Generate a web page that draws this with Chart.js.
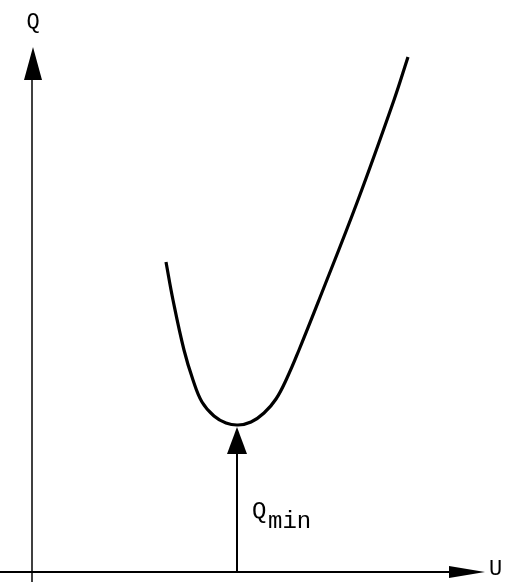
<!DOCTYPE html>
<html>
<head>
<meta charset="utf-8">
<script src="https://cdn.jsdelivr.net/npm/chart.js@4/dist/chart.umd.min.js"></script>
<style>
  body { margin: 0; background: #fff; }
  #wrap { width: 505px; height: 582px; }
</style>
</head>
<body>
<div id="wrap"><canvas id="chart" width="505" height="582"></canvas></div>
<script>
// curve Q(U) (U and Q in arbitrary units)
const curveU = [1.34, 1.41, 1.52, 1.61, 1.70, 1.82, 1.94, 2.06, 2.19, 2.32, 2.44, 2.55, 2.67, 2.87, 3.26, 3.62, 3.76];
const curveQ = [3.10, 2.72, 2.22, 1.92, 1.70, 1.56, 1.49, 1.47, 1.50, 1.59, 1.73, 1.94, 2.22, 2.72, 3.72, 4.72, 5.15];

// axes and the Q_min marker
const uRange = [-0.32, 4.73];
const qRange = [-0.10, 5.72];
const yAxisTop = 5.0;
const xAxisEnd = 4.3;
const uMin = 2.05;
const qMin = 1.45;

const curvePoints = curveU.map((u, i) => ({ x: u, y: curveQ[i] }));

// --- arrowheads and labels ---
const arrowPlugin = {
    id: 'arrows',
    afterDatasetsDraw(chart) {
        const { ctx, scales: { x, y } } = chart;
        function arrow(u, q, dir, len, half) {
            const px = x.getPixelForValue(u), py = y.getPixelForValue(q);
            ctx.beginPath();
            ctx.moveTo(px, py);
            if (dir === 'up') {
                ctx.lineTo(px - half, py + len);
                ctx.lineTo(px + half, py + len);
            } else {
                ctx.lineTo(px - len, py - half);
                ctx.lineTo(px - len, py + half);
            }
            ctx.closePath();
            ctx.fill();
        }
        ctx.save();
        ctx.fillStyle = '#000';
        arrow(0.01, 5.25, 'up', 33, 9);
        arrow(4.53, 0, 'right', 36, 6);
        arrow(uMin, qMin, 'up', 27, 10);

        ctx.textBaseline = 'middle';
        ctx.textAlign = 'center';
        ctx.font = '22px "Liberation Mono", monospace';
        ctx.fillText('Q', x.getPixelForValue(0.01), y.getPixelForValue(5.50));
        ctx.textAlign = 'left';
        ctx.fillText('U', x.getPixelForValue(4.57), y.getPixelForValue(0.03));
        ctx.font = '24px "Liberation Mono", monospace';
        ctx.fillText('Q', x.getPixelForValue(2.20), y.getPixelForValue(0.60));
        ctx.fillText('min', x.getPixelForValue(2.36), y.getPixelForValue(0.50));
        ctx.restore();
    }
};

new Chart(document.getElementById('chart'), {
    type: 'scatter',
    data: {
        datasets: [
            {
                data: curvePoints,
                showLine: true,
                borderColor: '#000',
                borderWidth: 3.2,
                pointRadius: 0,
                tension: 0.4
            },
            {
                data: [{ x: 0, y: qRange[0] }, { x: 0, y: yAxisTop }],
                showLine: true, borderColor: '#000', borderWidth: 1.5, pointRadius: 0
            },
            {
                data: [{ x: uRange[0], y: 0 }, { x: xAxisEnd, y: 0 }],
                showLine: true, borderColor: '#000', borderWidth: 2, pointRadius: 0
            },
            {
                data: [{ x: uMin, y: 0 }, { x: uMin, y: qMin - 0.2 }],
                showLine: true, borderColor: '#000', borderWidth: 2, pointRadius: 0
            }
        ]
    },
    options: {
        responsive: false,
        animation: false,
        layout: { padding: 0 },
        plugins: { legend: { display: false }, tooltip: { enabled: false } },
        scales: {
            x: { type: 'linear', min: uRange[0], max: uRange[1], display: false },
            y: { type: 'linear', min: qRange[0], max: qRange[1], display: false }
        }
    },
    plugins: [arrowPlugin]
});
</script>
</body>
</html>
